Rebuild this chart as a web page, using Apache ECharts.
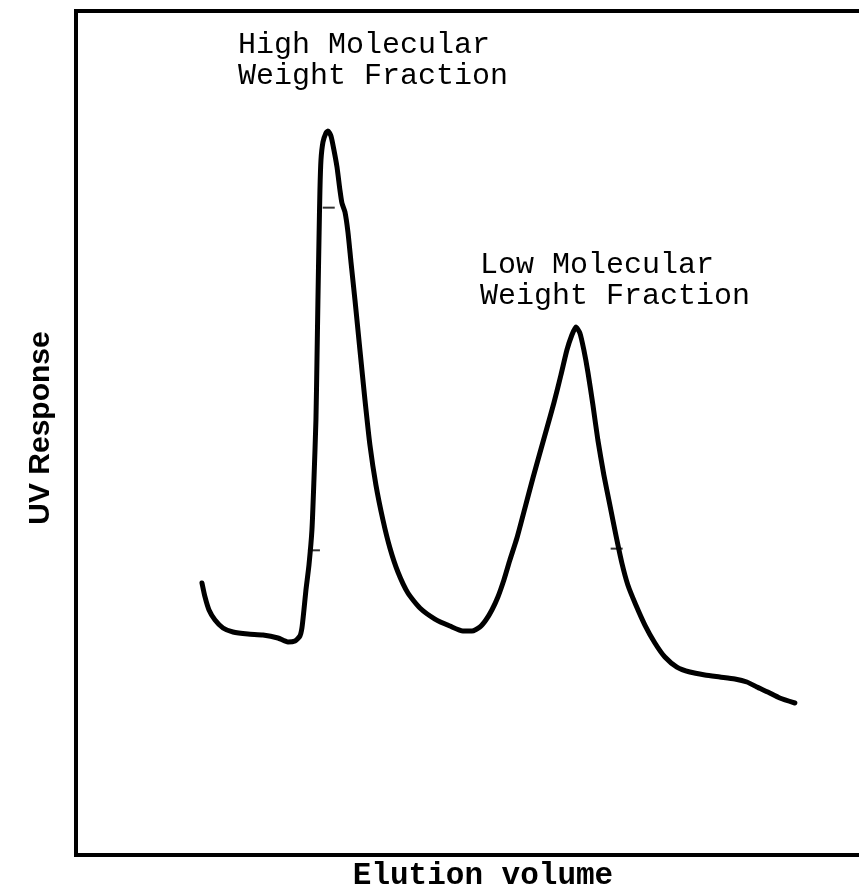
<!DOCTYPE html>
<html>
<head>
<meta charset="utf-8">
<script src="https://cdn.jsdelivr.net/npm/echarts@6/dist/echarts.min.js"></script>
<style>html,body{margin:0;padding:0;background:#fff;overflow:hidden;}#c{width:859px;height:892px;}</style>
</head>
<body>
<div id="c"></div>
<script>
// Elution volume (arbitrary units) and UV response (arbitrary units)
const elutionVolume = [15.75,16.13,16.63,17.38,18.38,19.63,21.5,23.38,25.25,26.5,27.38,28.0,28.25,28.5,28.75,29.13,29.5,29.75,30.0,30.13,30.25,30.38,30.5,30.63,30.88,31.25,31.5,31.88,32.25,32.63,33.0,33.25,33.63,34.0,34.38,34.88,35.5,36.13,36.75,37.5,38.38,39.25,40.25,41.5,43.0,44.88,46.75,48.38,49.5,50.5,51.25,52.0,52.75,53.5,54.25,55.13,56.13,57.13,58.0,58.88,59.75,60.63,61.38,62.0,62.5,63.0,63.5,64.0,64.63,65.25,66.0,66.75,67.5,68.25,69.0,70.0,71.13,72.38,73.63,75.13,76.75,78.63,80.5,82.38,83.88,85.13,86.5,88.0,89.88];
const uvResponse = [32.23,30.57,29.03,27.84,26.9,26.42,26.18,26.07,25.71,25.24,25.36,25.95,26.9,29.03,31.4,34.36,38.51,44.43,51.54,58.65,65.76,72.87,78.79,82.35,84.48,85.55,85.78,85.19,83.53,81.52,78.79,77.25,76.18,73.82,70.26,65.76,59.83,53.91,48.58,43.84,39.69,36.37,33.53,31.04,29.27,27.96,27.13,26.54,26.54,27.01,27.84,29.03,30.57,32.58,34.95,37.56,41.11,44.67,47.63,50.59,53.55,56.87,59.83,61.61,62.56,61.85,59.83,57.23,53.32,49.17,45.02,41.47,37.91,34.6,31.99,29.62,27.25,25.12,23.46,22.27,21.68,21.33,21.09,20.85,20.5,19.91,19.31,18.6,18.01];
// small tick marks drawn on the trace
const markX = [31.6, 29.75, 67.6];
const markY = [76.7, 36.1, 36.3];
const peakLabels = ["High Molecular\nWeight Fraction", "Low Molecular\nWeight Fraction"];
const xTitle = "Elution volume";
const yTitle = "UV Response";

const trace = elutionVolume.map((v, i) => [v, uvResponse[i]]);
const marks = markX.map((v, i) => [v, markY[i]]);

const chart = echarts.init(document.getElementById('c'), null, {renderer: 'canvas'});
const mono = '"Liberation Mono", "Courier New", monospace';
const frame = {show: true, onZero: false, lineStyle: {color: '#000', width: 4, cap: 'square'}};
const bare = {axisTick: {show: false}, axisLabel: {show: false}, splitLine: {show: false}};
chart.setOption({
  animation: false,
  backgroundColor: '#fff',
  grid: {left: 76, top: 11, right: 0, bottom: 37, show: false},
  xAxis: [
    Object.assign({type: 'value', min: 0, max: 97.9, position: 'bottom', axisLine: frame}, bare),
    Object.assign({type: 'value', min: 0, max: 97.9, position: 'top', axisLine: frame}, bare)
  ],
  yAxis: Object.assign({type: 'value', min: 0, max: 100, position: 'left', axisLine: frame}, bare),
  series: [
    {type: 'line', data: trace, showSymbol: false, smooth: 0.2,
     lineStyle: {color: '#000', width: 5, cap: 'round', join: 'round'}},
    {type: 'scatter', data: marks, symbol: 'rect', symbolSize: [12, 2],
     itemStyle: {color: '#000'}}
  ],
  graphic: [
    {type: 'text', x: 238, y: 30, style: {text: peakLabels[0], font: '30px ' + mono, fill: '#000', lineHeight: 31, textVerticalAlign: 'top'}},
    {type: 'text', x: 480, y: 250, style: {text: peakLabels[1], font: '30px ' + mono, fill: '#000', lineHeight: 31, textVerticalAlign: 'top'}},
    {type: 'text', x: 483, y: 876, style: {text: xTitle, font: 'bold 31px ' + mono, fill: '#000', textAlign: 'center', textVerticalAlign: 'middle'}},
    {type: 'text', x: 41, y: 428, rotation: Math.PI / 2, style: {text: yTitle, font: 'bold 30px "Liberation Sans", Arial, sans-serif', fill: '#000', textAlign: 'center', textVerticalAlign: 'middle'}}
  ]
});
</script>
</body>
</html>
